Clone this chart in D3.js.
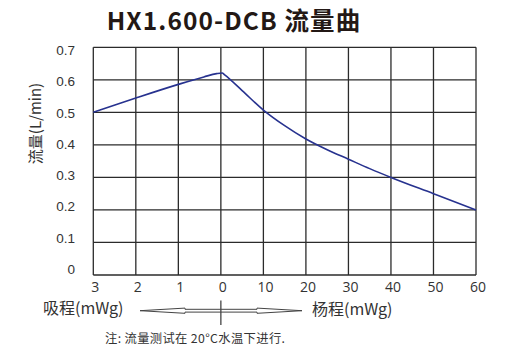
<!DOCTYPE html>
<html><head><meta charset="utf-8">
<script src="https://cdn.jsdelivr.net/npm/d3@7"></script>
<style>
html,body{margin:0;padding:0;background:#fff;}
svg{display:block;}
</style></head>
<body>
<svg id="c" width="532" height="364"></svg>
<script>
// ---- data ----
const titleText = "HX1.600-DCB 流量曲";
const yAxisTitle = "流量(L/min)";
const leftLabel = "吸程(mWg)";
const rightLabel = "杨程(mWg)";
const noteText = "注: 流量测试在 20°C水温下进行.";
// x in mWg: negative = suction (吸程), positive = head (杨程)
const xTicks = [-3, -2, -1, 0, 10, 20, 30, 40, 50, 60];
const xTickLabels = ["3", "2", "1", "0", "10", "20", "30", "40", "50", "60"];
const yTicks = [0, 0.1, 0.2, 0.3, 0.4, 0.5, 0.6, 0.7];
const yTickLabels = ["0", "0.1", "0.2", "0.3", "0.4", "0.5", "0.6", "0.7"];
const curveX = [-3, -2, -1, -0.4, -0.1, 0.3, 0.9, 5, 10, 15, 20, 25, 30, 35, 40, 50, 60];
const curveFlow = [0.5, 0.544, 0.586, 0.609, 0.619, 0.621, 0.615, 0.567, 0.507, 0.459, 0.418, 0.385, 0.356, 0.327, 0.3, 0.25, 0.2];

(function () {
// ---- layout ----
const svg = d3.select("#c");
const pL = 93.3, pR = 476, pT = 47.3, pB = 275;
const colW = (pR - pL) / 9;
const x = d3.scaleLinear().domain([-3, 0, 60]).range([pL, pL + 3 * colW, pR]);
const y = d3.scaleLinear().domain([0, 0.7]).range([pB, pT]);
const yLab = d3.scaleLinear().domain([0, 0.7]).range([274, 55]);

const cjk = "'Noto Sans CJK SC','Noto Sans',sans-serif";

// title
svg.append("text").attr("x", 234).attr("y", 30)
  .attr("text-anchor", "middle")
  .attr("font-family", cjk).attr("font-weight", "bold").attr("font-size", 24.5)
  .attr("letter-spacing", 1.1)
  .attr("fill", "#231815").text(titleText);

// grid
const g = svg.append("g");
g.selectAll("line.v").data(xTicks).join("line")
  .attr("x1", d => x(d)).attr("x2", d => x(d)).attr("y1", pT).attr("y2", pB)
  .attr("stroke", "#2b2b2b").attr("stroke-width", 1.3);
g.selectAll("line.h").data(yTicks).join("line")
  .attr("x1", pL).attr("x2", pR).attr("y1", d => y(d)).attr("y2", d => y(d))
  .attr("stroke", "#2b2b2b").attr("stroke-width", 1.3);

// y tick labels
svg.selectAll("text.yl").data(yTicks).join("text")
  .attr("x", 75).attr("y", d => yLab(d))
  .attr("text-anchor", "end")
  .attr("font-family", "'Liberation Sans',Arial,sans-serif").attr("font-size", 13.5)
  .attr("fill", "#333").text((d, i) => yTickLabels[i]);

// x tick labels
svg.selectAll("text.xl").data(xTicks).join("text")
  .attr("x", d => x(d) + 2).attr("y", 292)
  .attr("text-anchor", "middle")
  .attr("font-family", "'Open Sans',sans-serif").attr("font-size", 14)
  .attr("fill", "#333").text((d, i) => xTickLabels[i]);

// y axis title
svg.append("text")
  .attr("transform", "translate(41,123.5) rotate(-90)")
  .attr("text-anchor", "middle")
  .attr("font-family", cjk).attr("font-size", 15)
  .attr("fill", "#333").text(yAxisTitle);

// curve
const line = d3.line().x(d => x(d)).y((d, i) => y(curveFlow[i])).curve(d3.curveMonotoneX);
svg.append("path").attr("d", line(curveX))
  .attr("fill", "none").attr("stroke", "#27328f").attr("stroke-width", 1.6);

// bottom labels
svg.append("text").attr("x", 43).attr("y", 314)
  .attr("font-family", cjk).attr("font-size", 16).attr("fill", "#333").text(leftLabel);
svg.append("text").attr("x", 312).attr("y", 315)
  .attr("font-family", cjk).attr("font-size", 16).attr("fill", "#333").text(rightLabel);

// double arrow
const ay = 310.7, ax0 = 140, ax1 = 302, hb0 = 185, hb1 = 257;
const arrow = d3.path();
arrow.moveTo(ax0, ay);
arrow.lineTo(hb0, ay - 2.6);
arrow.lineTo(hb0, ay - 1.4);
arrow.lineTo(hb1, ay - 1.4);
arrow.lineTo(hb1, ay - 2.6);
arrow.lineTo(ax1, ay);
arrow.lineTo(hb1, ay + 2.6);
arrow.lineTo(hb1, ay + 1.4);
arrow.lineTo(hb0, ay + 1.4);
arrow.lineTo(hb0, ay + 2.6);
arrow.closePath();
svg.append("path").attr("d", arrow.toString())
  .attr("fill", "#fff").attr("stroke", "#444").attr("stroke-width", 1);
svg.append("line").attr("x1", x(0)).attr("x2", x(0)).attr("y1", 300.5).attr("y2", 325)
  .attr("stroke", "#444").attr("stroke-width", 1.3);

// note
svg.append("text").attr("x", 105).attr("y", 343)
  .attr("font-family", cjk).attr("font-size", 12.3).attr("letter-spacing", 0.35)
  .attr("fill", "#333").text(noteText);
})();
</script>
</body></html>
